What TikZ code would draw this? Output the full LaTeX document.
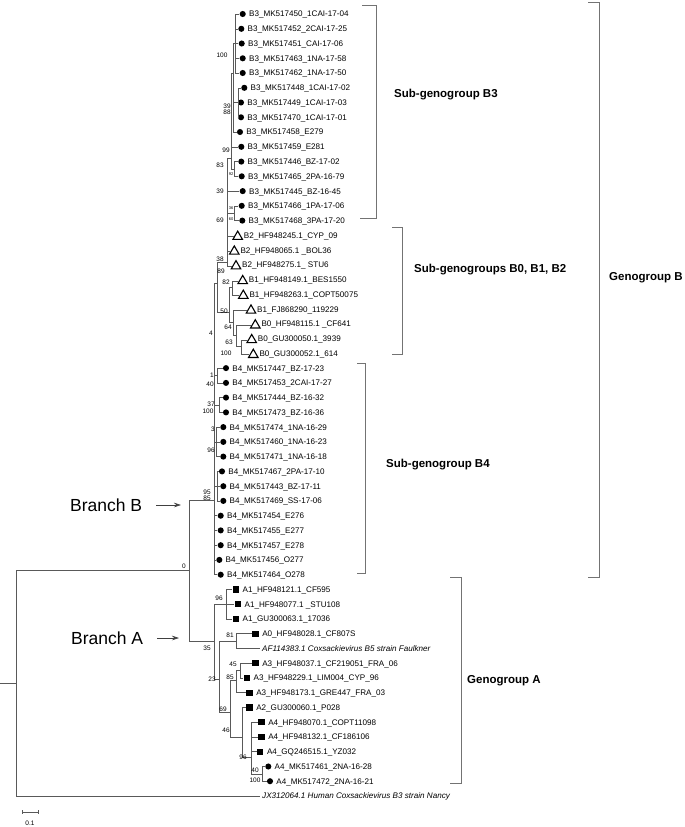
\documentclass[tikz,border=0pt]{standalone}
\usepackage{fontspec}
\setmainfont{Liberation Sans}
\usetikzlibrary{arrows.meta,shapes.geometric}
\tikzset{
  br/.style={draw=black!65, line width=0.6pt},
  bk/.style={draw=black!55, line width=0.8pt},
  dotm/.style={circle, fill=black, inner sep=0pt, minimum size=6.1pt},
  trim/.style={regular polygon, regular polygon sides=3, draw=black, line width=1.1pt, inner sep=0pt, minimum size=11pt},
  sqm/.style={rectangle, fill=black, inner sep=0pt, minimum size=6.4pt},
  lbl/.style={font=\fontsize{8.1}{9}\selectfont, inner sep=0pt, anchor=base west},
  ilbl/.style={font=\fontsize{8.1}{9}\selectfont\itshape, inner sep=0pt, anchor=base west},
  bs/.style={font=\fontsize{6.5}{7}\selectfont, inner sep=0pt},
  bst/.style={font=\fontsize{4}{4}\selectfont, inner sep=0pt},
  grp/.style={font=\fontsize{11.5}{13}\selectfont\bfseries, inner sep=0pt, anchor=west},
  brn/.style={font=\fontsize{17.5}{20}\selectfont, inner sep=0pt, anchor=west},
  arr/.style={draw=black!75, line width=0.6pt, -{Stealth[length=7pt,width=4.5pt]}}
}
\newcommand\ldot[4]{\node[dotm] (m#1) at (#2,#3) {};\node[lbl] (t#1) at (#2+6.2,#3+2.9) {#4};}
\newcommand\ltri[4]{\node[trim] (m#1) at (#2,#3+1.3) {};\node[lbl] (t#1) at (#2+6,#3+2.9) {#4};}
\newcommand\lsq[4]{\node[sqm] (m#1) at (#2,#3) {};\node[lbl] (t#1) at (#2+6.8,#3+2.9) {#4};}
\newcommand\lnone[4]{\coordinate (m#1) at (#2,#3);\node[ilbl] (t#1) at (#2+2,#3+2.9) {#4};}
\newcommand\bsl[3]{\node[bs] at (#1,#2) {#3};}
\newcommand\bstl[3]{\node[bst] at (#1,#2) {#3};}
\begin{document}
\begin{tikzpicture}[x=1pt,y=-1pt]
\useasboundingbox (0,0) rectangle (685,827);
% ---------------- leaves ----------------
\ldot{1}{242.7}{14.0}{B3\_MK517450\_1CAI-17-04}
\ldot{2}{241.3}{28.8}{B3\_MK517452\_2CAI-17-25}
\ldot{3}{241.7}{43.5}{B3\_MK517451\_CAI-17-06}
\ldot{4}{242.7}{58.3}{B3\_MK517463\_1NA-17-58}
\ldot{5}{242.7}{73.0}{B3\_MK517462\_1NA-17-50}
\ldot{6}{244.3}{87.8}{B3\_MK517448\_1CAI-17-02}
\ldot{7}{241}{102.5}{B3\_MK517449\_1CAI-17-03}
\ldot{8}{241}{117.3}{B3\_MK517470\_1CAI-17-01}
\ldot{9}{240}{132.0}{B3\_MK517458\_E279}
\ldot{10}{241.3}{146.8}{B3\_MK517459\_E281}
\ldot{11}{241.3}{161.6}{B3\_MK517446\_BZ-17-02}
\ldot{12}{241.7}{176.3}{B3\_MK517465\_2PA-16-79}
\ldot{13}{242.7}{191.1}{B3\_MK517445\_BZ-16-45}
\ldot{14}{241.7}{205.8}{B3\_MK517466\_1PA-17-06}
\ldot{15}{242.3}{220.6}{B3\_MK517468\_3PA-17-20}
\ltri{16}{237.7}{235.3}{B2\_HF948245.1\_CYP\_09}
\ltri{17}{234.3}{250.1}{B2\_HF948065.1 \_BOL36}
\ltri{18}{236}{264.8}{B2\_HF948275.1\_ STU6}
\ltri{19}{242.7}{279.6}{B1\_HF948149.1\_BES1550}
\ltri{20}{243.3}{294.3}{B1\_HF948263.1\_COPT50075}
\ltri{21}{251}{309.1}{B1\_FJ868290\_119229}
\ltri{22}{255.3}{323.9}{B0\_HF948115.1 \_CF641}
\ltri{23}{251.7}{338.6}{B0\_GU300050.1\_3939}
\ltri{24}{253.3}{353.4}{B0\_GU300052.1\_614}
\ldot{25}{226}{368.1}{B4\_MK517447\_BZ-17-23}
\ldot{26}{226}{382.9}{B4\_MK517453\_2CAI-17-27}
\ldot{27}{226}{397.6}{B4\_MK517444\_BZ-16-32}
\ldot{28}{226}{412.4}{B4\_MK517473\_BZ-16-36}
\ldot{29}{223.3}{427.1}{B4\_MK517474\_1NA-16-29}
\ldot{30}{223.3}{441.9}{B4\_MK517460\_1NA-16-23}
\ldot{31}{223.3}{456.6}{B4\_MK517471\_1NA-16-18}
\ldot{32}{222}{471.4}{B4\_MK517467\_2PA-17-10}
\ldot{33}{223.3}{486.2}{B4\_MK517443\_BZ-17-11}
\ldot{34}{223.3}{500.9}{B4\_MK517469\_SS-17-06}
\ldot{35}{220.7}{515.7}{B4\_MK517454\_E276}
\ldot{36}{220.7}{530.4}{B4\_MK517455\_E277}
\ldot{37}{220.7}{545.2}{B4\_MK517457\_E278}
\ldot{38}{219.3}{559.9}{B4\_MK517456\_O277}
\ldot{39}{220.7}{574.7}{B4\_MK517464\_O278}
\lsq{40}{235.7}{589.4}{A1\_HF948121.1\_CF595}
\lsq{41}{237.7}{604.2}{A1\_HF948077.1 \_STU108}
\lsq{42}{235.7}{618.9}{A1\_GU300063.1\_17036}
\lsq{43}{255.3}{633.7}{A0\_HF948028.1\_CF807S}
\lnone{44}{260}{648.5}{AF114383.1 Coxsackievirus B5 strain Faulkner}
\lsq{45}{255.3}{663.2}{A3\_HF948037.1\_CF219051\_FRA\_06}
\lsq{46}{246.7}{678.0}{A3\_HF948229.1\_LIM004\_CYP\_96}
\lsq{47}{249.3}{692.7}{A3\_HF948173.1\_GRE447\_FRA\_03}
\lsq{48}{249.3}{707.5}{A2\_GU300060.1\_P028}
\lsq{49}{261.3}{722.2}{A4\_HF948070.1\_COPT11098}
\lsq{50}{261.3}{737.0}{A4\_HF948132.1\_CF186106}
\lsq{51}{260}{751.7}{A4\_GQ246515.1\_YZ032}
\ldot{52}{268.3}{766.5}{A4\_MK517461\_2NA-16-28}
\ldot{53}{270}{781.2}{A4\_MK517472\_2NA-16-21}
\lnone{54}{260}{796}{JX312064.1 Human Coxsackievirus B3 strain Nancy}
% ---------------- internal nodes ----------------
\coordinate (rootstub) at (0,683);
\coordinate (root) at (16,683);
\coordinate (nBA) at (189.3,570.7);
\coordinate (nB) at (214,500);
\coordinate (nA) at (214,641);
\coordinate (n89) at (217,283);
\coordinate (nbig) at (227,262);
\coordinate (n99) at (231,158);
\coordinate (n100) at (233.3,73);
\coordinate (na) at (235.7,43.5);
\coordinate (nb) at (238.3,102.5);
\coordinate (n92) at (234,169);
\coordinate (n36) at (234,213);
\coordinate (n50) at (229,312);
\coordinate (n82) at (232,287);
\coordinate (nx) at (233,322);
\coordinate (n64) at (236.5,335);
\coordinate (n63) at (241,346);
\coordinate (n1) at (217.5,375.5);
\coordinate (n37) at (219,405);
\coordinate (n96) at (216.5,441.9);
\coordinate (n95) at (217,486);
\coordinate (nA1) at (226,604);
\coordinate (n23) at (219.5,679);
\coordinate (n81) at (236.7,641);
\coordinate (n69) at (230.7,712);
\coordinate (n85) at (236.7,680);
\coordinate (n45) at (240,670.6);
\coordinate (n46) at (242.7,737);
\coordinate (n96a) at (251.7,757);
\coordinate (n100a) at (262.7,773.8);
% ---------------- edges ----------------
\draw[br] (rootstub) -- (root);
\draw[br] (root) |- (nBA);
\draw[br] (root) |- (m54);
\draw[br] (nBA) |- (nB);
\draw[br] (nBA) |- (nA);
% B
\foreach \c in {n89,n1,n37,n96,n95,m35.west,m36.west,m37.west,m38.west,m39.west} \draw[br] (nB) |- (\c);
\foreach \c in {m25,m26} \draw[br] (n1) |- (\c.west);
\foreach \c in {m27,m28} \draw[br] (n37) |- (\c.west);
\foreach \c in {m29,m30,m31} \draw[br] (n96) |- (\c.west);
\foreach \c in {m32,m33,m34} \draw[br] (n95) |- (\c.west);
\draw[br] (n89) |- (nbig);
\draw[br] (n89) |- (n50);
\foreach \c in {n99,m13.west,n36,m16.west,m17.west,m18.west} \draw[br] (nbig) |- (\c);
\foreach \c in {n100,m10.west,n92} \draw[br] (n99) |- (\c);
\foreach \c in {na,nb,m9.west} \draw[br] (n100) |- (\c);
\foreach \c in {m1,m2,m3,m4,m5} \draw[br] (na) |- (\c.west);
\foreach \c in {m6,m7,m8} \draw[br] (nb) |- (\c.west);
\foreach \c in {m11,m12} \draw[br] (n92) |- (\c.west);
\foreach \c in {m14,m15} \draw[br] (n36) |- (\c.west);
\draw[br] (n50) |- (n82);
\draw[br] (n50) |- (nx);
\foreach \c in {m19,m20} \draw[br] (n82) |- (\c.west);
\draw[br] (nx) |- (m21.west);
\draw[br] (nx) |- (n64);
\draw[br] (n64) |- (m22.west);
\draw[br] (n64) |- (n63);
\foreach \c in {m23,m24} \draw[br] (n63) |- (\c.west);
% A
\draw[br] (nA) |- (nA1);
\draw[br] (nA) |- (n23);
\foreach \c in {m40,m41,m42} \draw[br] (nA1) |- (\c.west);
\draw[br] (n23) |- (n81);
\draw[br] (n23) |- (n69);
\draw[br] (n81) |- (m43.west);
\draw[br] (n81) |- (m44);
\draw[br] (n69) |- (n85);
\draw[br] (n69) |- (n46);
\draw[br] (n85) |- (n45);
\draw[br] (n85) |- (m47.west);
\foreach \c in {m45,m46} \draw[br] (n45) |- (\c.west);
\draw[br] (n46) |- (m48.west);
\draw[br] (n46) |- (n96a);
\foreach \c in {m49,m50,m51} \draw[br] (n96a) |- (\c.west);
\draw[br] (n96a) |- (n100a);
\foreach \c in {m52,m53} \draw[br] (n100a) |- (\c.west);
% ---------------- bootstrap values ----------------
\bsl{222}{55}{100}
\bsl{227}{106}{39}
\bsl{227}{112}{88}
\bsl{226}{150}{99}
\bsl{220}{165}{83}
\bstl{231}{174}{92}
\bsl{220}{191}{39}
\bstl{231}{208}{36}
\bstl{231}{219}{60}
\bsl{220}{220}{69}
\bsl{220}{259}{38}
\bsl{221}{271}{89}
\bsl{226}{282}{82}
\bsl{224}{311}{50}
\bsl{211}{333}{4}
\bsl{228}{327}{64}
\bsl{229}{342}{63}
\bsl{226}{353}{100}
\bsl{212}{375}{1}
\bsl{210}{384}{40}
\bsl{211}{404}{37}
\bsl{208}{411}{100}
\bsl{213}{429}{3}
\bsl{211}{450}{96}
\bsl{207}{492}{95}
\bsl{207}{498}{85}
\bsl{184}{566}{0}
\bsl{219}{598}{96}
\bsl{230}{635}{81}
\bsl{207}{648}{35}
\bsl{233}{664}{45}
\bsl{230}{677}{85}
\bsl{212}{679}{23}
\bsl{223}{709}{69}
\bsl{226}{730}{46}
\bsl{243}{757}{96}
\bsl{255}{770}{40}
\bsl{255}{780}{100}
% ---------------- group brackets ----------------
\coordinate (b3a) at (362,5); \coordinate (b3b) at (376,218);
\draw[bk] (b3a) -| (b3b) -- ++(-16,0);
\node[grp] (g3) at (394,95) {Sub-genogroup B3};
\coordinate (b0a) at (392,227); \coordinate (b0b) at (402,354);
\draw[bk] (b0a) -| (b0b) -- ++(-10,0);
\node[grp] (g0) at (414,270) {Sub-genogroups B0, B1, B2};
\coordinate (b4a) at (357,363); \coordinate (b4b) at (365,573);
\draw[bk] (b4a) -| (b4b) -- ++(-8,0);
\node[grp] (g4) at (386,465) {Sub-genogroup B4};
\coordinate (gba) at (588,2); \coordinate (gbb) at (599,577);
\draw[bk] (gba) -| (gbb) -- ++(-11,0);
\node[grp] (gB) at (609,278) {Genogroup B};
\coordinate (gaa) at (450,577); \coordinate (gab) at (461,783);
\draw[bk] (gaa) -| (gab) -- ++(-11,0);
\node[grp] (gA) at (467,681) {Genogroup A};
% ---------------- branch labels ----------------
\node[brn] (brB) at (70,505) {Branch B};
\coordinate (tipB) at (181,505);
\draw[arr] ([xshift=14pt]brB.east) -- (tipB);
\node[brn] (brA) at (71,638) {Branch A};
\coordinate (tipA) at (179,638);
\draw[arr] ([xshift=14pt]brA.east) -- (tipA);
% ---------------- scale bar ----------------
\coordinate (sb1) at (22,812); \coordinate (sb2) at (38,812);
\draw[br] (sb1) -- (sb2);
\draw[br] ([yshift=2pt]sb1) -- ([yshift=-2pt]sb1);
\draw[br] ([yshift=2pt]sb2) -- ([yshift=-2pt]sb2);
\node[bs] (sbl) at (30,823) {0.1};
\end{tikzpicture}
\end{document}
